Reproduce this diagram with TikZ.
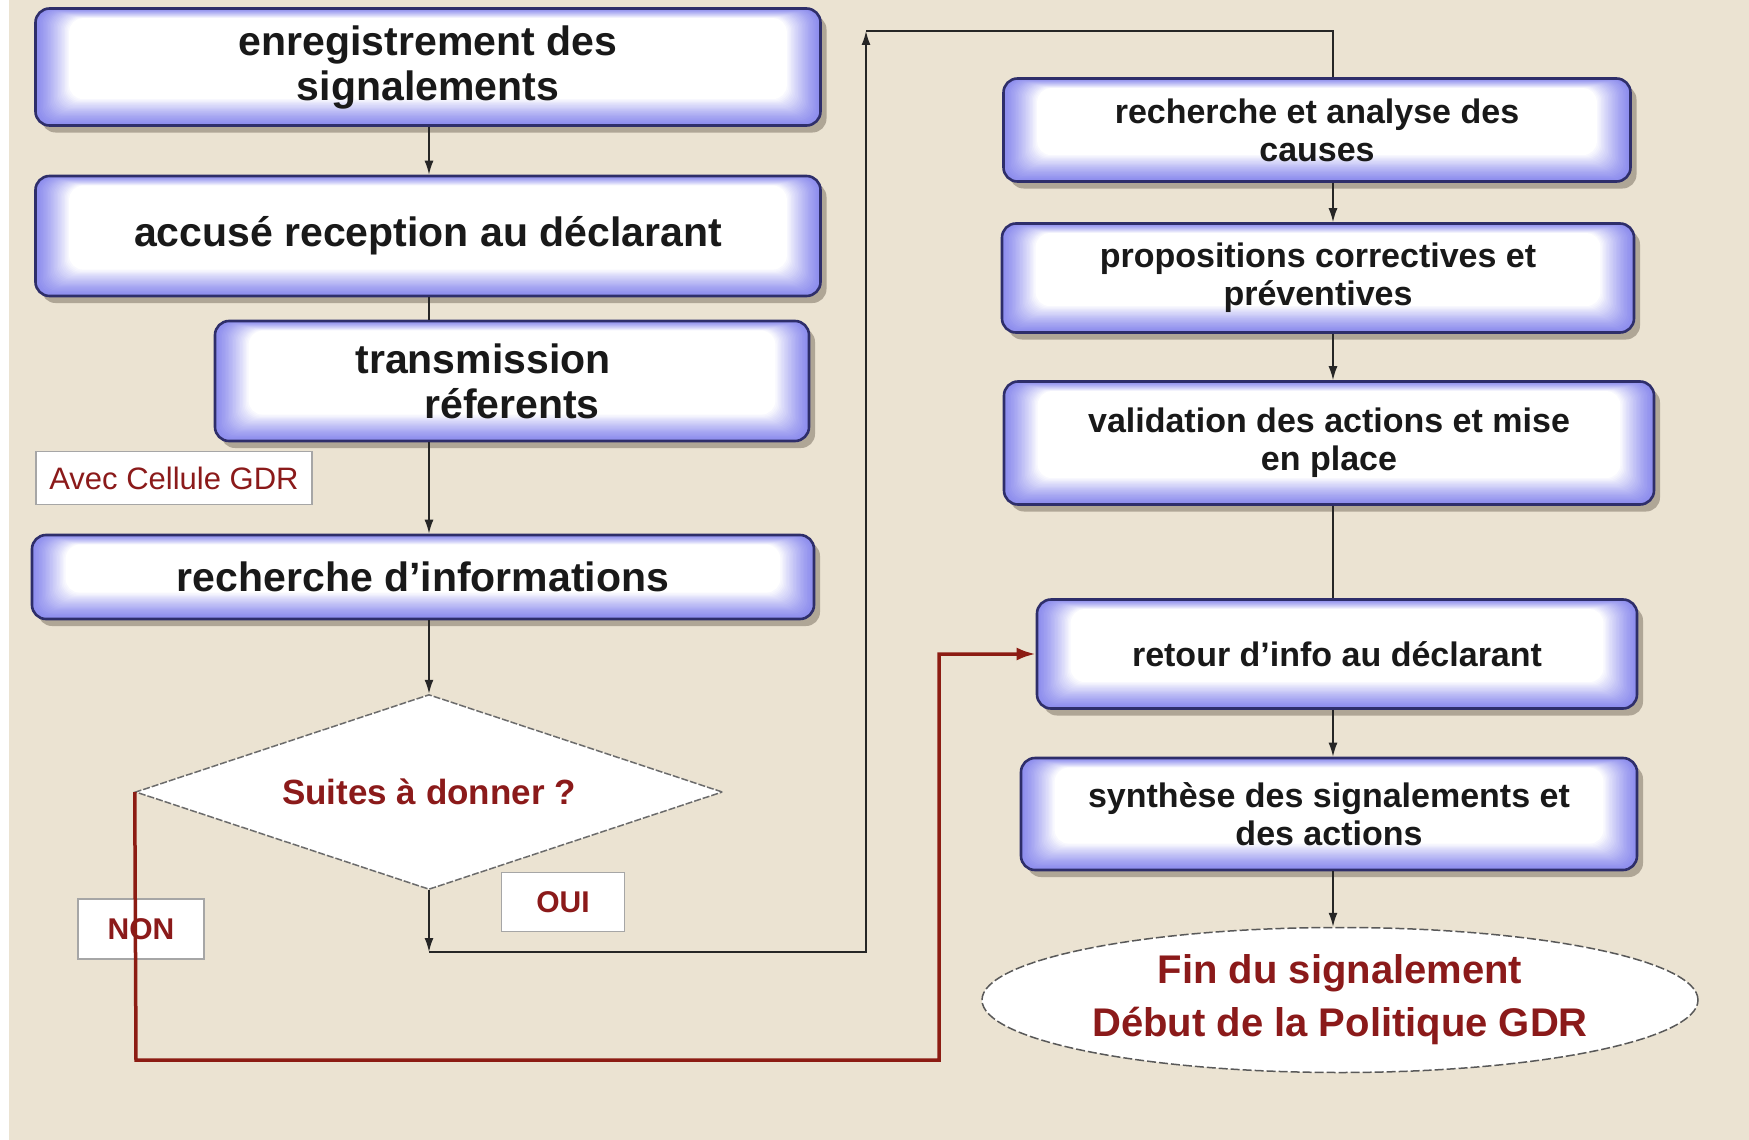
\documentclass[tikz,border=0pt]{standalone}
\usepackage{fontspec}
\setmainfont{Liberation Sans}
\usetikzlibrary{shapes.geometric,arrows.meta,shadows}
\definecolor{bg}{HTML}{EBE3D2}
\definecolor{lav}{HTML}{8E8EEE}
\definecolor{bord}{HTML}{2E2E6A}
\definecolor{dred}{HTML}{8B1A1A}
\definecolor{lred}{HTML}{8C1C13}
\newcommand\lfnt{\bfseries\fontsize{41}{45}\selectfont}
\newcommand\rfnt{\bfseries\fontsize{34}{38}\selectfont}
\tikzset{
  proc/.style={rounded corners=14pt, draw=bord, line width=2.6pt, inner sep=0pt,
    align=center, text=black!90,
    drop shadow={shadow xshift=6pt, shadow yshift=-7pt, opacity=.3, fill=black!80!brown},
    path picture={
      \foreach \k in {0,...,24}{
        \pgfmathtruncatemacro\p{min(100,100*(\k/24)^1.3)}
        \fill[white!\p!lav, rounded corners=14pt]
          ([xshift=\k*1.4pt, yshift=\k*1.1pt]path picture bounding box.south west)
          rectangle ([xshift=-\k*1.4pt, yshift=-\k*0.4pt]path picture bounding box.north east);
      }}},
  lab/.style={fill=white, draw=gray!70, line width=1.5pt, inner sep=0pt, text=dred},
  conn/.style={draw=black!85, line width=1.6pt},
  tipb/.style={-{Latex[length=14pt,width=9pt]}},
  redc/.style={draw=lred, line width=3.5pt},
  tipr/.style={-{Latex[length=19pt,width=13pt]}}
}
\begin{document}
\begin{tikzpicture}[x=1pt,y=-1pt]
\useasboundingbox (0,0) rectangle (1749,1140);
\fill[bg] (0,0) rectangle (1749,1140);
\fill[white] (0,0) rectangle (9,1140);

% left column
\node[proc, minimum width=785pt, minimum height=117pt, font=\lfnt] (b1) at (428,67) {enregistrement des\\signalements};
\node[proc, minimum width=785pt, minimum height=120pt, font=\lfnt] (b2) at (428,236) {accusé reception au déclarant};
\node[proc, minimum width=594pt, minimum height=120pt, font=\lfnt] (b3) at (512,381) {transmission\rule{58pt}{0pt}\\réferents};
\node[proc, minimum width=782pt, minimum height=84pt, font=\lfnt] (b4) at (423,577) {recherche d’informations};

\node[lab, minimum width=276pt, minimum height=53pt, font=\fontsize{31}{35}\selectfont] (avec) at (174,478) {Avec Cellule GDR};

\node[diamond, aspect=3, minimum width=587pt, minimum height=195pt, inner sep=0pt, fill=white,
      draw=gray!85!black, line width=1.5pt, dash pattern=on 7pt off 2pt,
      text=dred, font=\bfseries\fontsize{35}{40}\selectfont] (d) at (429,792) {Suites à donner ?};

\node[lab, minimum width=123pt, minimum height=59pt, font=\bfseries\fontsize{30}{34}\selectfont] (oui) at (563,902) {OUI};
\node[lab, minimum width=126pt, minimum height=60pt, font=\bfseries\fontsize{30}{34}\selectfont] (non) at (141,929) {NON};

% right column
\node[proc, minimum width=627pt, minimum height=103pt, font=\rfnt] (r1) at (1317,130) {recherche et analyse des\\causes};
\node[proc, minimum width=632pt, minimum height=109pt, font=\rfnt] (r2) at (1318,278) {propositions correctives et\\préventives};
\node[proc, minimum width=650pt, minimum height=123pt, font=\rfnt] (r3) at (1329,443) {validation des actions et mise\\en place};
\node[proc, minimum width=600pt, minimum height=109pt, font=\rfnt] (r4) at (1337,654) {retour d’info au déclarant};
\node[proc, minimum width=616pt, minimum height=112pt, font=\rfnt] (r5) at (1329,814) {synthèse des signalements et\\des actions};

\node[ellipse, minimum width=716pt, minimum height=145pt, inner sep=0pt, fill=white,
      draw=gray!70!black, line width=1.5pt, dash pattern=on 9pt off 3pt,
      text=dred, align=center, font=\bfseries\fontsize{40}{53}\selectfont] (fin) at (1340,1000)
      {Fin du signalement\\Début de la Politique GDR};

% helper coordinates
\coordinate (lx) at (429,0);
\coordinate (rx) at (1333,0);
\coordinate (c1) at (429,952);
\coordinate (c2) at (866,952);
\coordinate (c3) at (866,31);
\coordinate (c4) at (1333,31);
\coordinate (n1) at (136,1060);
\coordinate (n2) at (939,1060);

% left connectors
\draw[conn,tipb] (b1.south -| lx) -- (b2.north -| lx);
\draw[conn] (b2.south -| lx) -- (b3.north -| lx);
\draw[conn,tipb] (b3.south -| lx) -- (b4.north -| lx);
\draw[conn,tipb] (b4.south -| lx) -- (d.north);
\draw[conn,tipb] (d.south) -- (c1);
\draw[conn,tipb] (c1) -- (c2) -- (c3);
\draw[conn] (c3) -- (c4) -- (r1.north -| c4);

% right connectors
\draw[conn,tipb] (r1.south -| rx) -- (r2.north -| rx);
\draw[conn,tipb] (r2.south -| rx) -- (r3.north -| rx);
\draw[conn] (r3.south -| rx) -- (r4.north -| rx);
\draw[conn,tipb] (r4.south -| rx) -- (r5.north -| rx);
\draw[conn,tipb] (r5.south -| rx) -- (fin.north -| rx);

% NON path
\draw[redc,tipr] (d.west) -- (n1) -- (n2) -- (n2 |- r4.west) -- (r4.west);
\end{tikzpicture}
\end{document}
